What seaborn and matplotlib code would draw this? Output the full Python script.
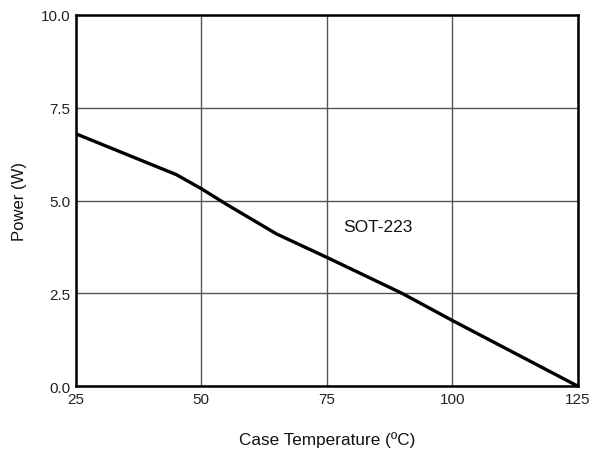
import pandas as pd
import matplotlib
matplotlib.use("Agg")
import matplotlib.pyplot as plt
import seaborn as sns

# derating curve
case_temp = [25, 45, 50, 55, 65, 75, 90, 100, 125]
power_w = [6.8, 5.7, 5.32, 4.9, 4.1, 3.47, 2.5, 1.77, 0.0]
x_ticks = [25, 50, 75, 100, 125]
y_ticks = [0.0, 2.5, 5.0, 7.5, 10.0]

sns.set_theme(style="white")
plt.rcParams['font.family'] = ['Liberation Sans', 'DejaVu Sans']

df = pd.DataFrame({"temp": case_temp, "power": power_w})

fig = plt.figure(figsize=(5.92, 4.56), dpi=100)
ax = fig.add_axes([0.128, 0.151, 0.848, 0.814])

sns.lineplot(data=df, x="temp", y="power", ax=ax, color="black", linewidth=2.4, zorder=3)

ax.set_xlim(25, 125)
ax.set_ylim(0, 10)
ax.set_xticks(x_ticks)
ax.set_xticklabels([str(t) for t in x_ticks])
ax.set_yticks(y_ticks)
ax.set_yticklabels([f"{t:.1f}" for t in y_ticks])
ax.grid(True, color="#555555", linewidth=1.0)
ax.tick_params(axis="both", length=0, labelsize=11, colors="#222222", pad=4)
for s in ax.spines.values():
    s.set_color("black")
    s.set_linewidth(1.8)

ax.set_xlabel("Case Temperature (ºC)", fontsize=12.3, color="#111111", labelpad=18)
ax.set_ylabel("Power (W)", fontsize=12, color="#111111", labelpad=10)
ax.text(85.2, 4.29, "SOT-223", fontsize=12.5, ha="center", va="center", color="#111111")

fig.savefig("out.png", dpi=100)
